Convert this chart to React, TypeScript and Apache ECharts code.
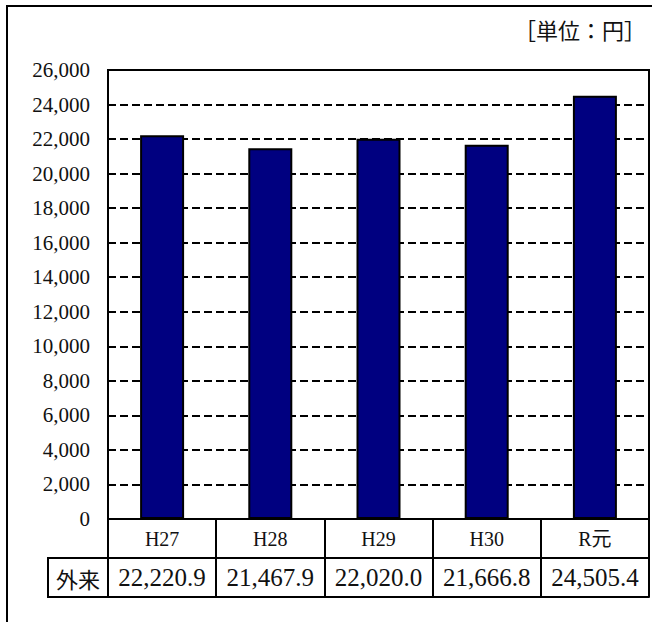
import React, { useEffect, useRef } from "react";
import * as echarts from "echarts";

const categories = ["H27", "H28", "H29", "H30", "R元"];
const outpatient = [22220.9, 21467.9, 22020.0, 21666.8, 24505.4];
const rowLabel = "外来";
const unitLabel = "［単位：円］";
const yMin = 0;
const yMax = 26000;
const yStep = 2000;

const fmtInt = (v: number) => v.toLocaleString("en-US");
const fmtVal = (v: number) =>
  v.toLocaleString("en-US", { minimumFractionDigits: 1, maximumFractionDigits: 1 });

const SERIF = "Liberation Serif, Noto Sans CJK JP, serif";
const CJK = "Noto Sans CJK JP, sans-serif";

export default function App() {
  const ref = useRef<HTMLDivElement>(null);
  useEffect(() => {
    if (!ref.current) return;
    const chart = echarts.init(ref.current, undefined, { renderer: "svg" });
    const rowH = 39;
    const gridLeft = 108;
    const gridTop = 70;
    const gridBottomY = 519;
    chart.setOption({
      animation: false,
      backgroundColor: "#fff",
      textStyle: { fontFamily: SERIF },
      grid: {
        left: gridLeft,
        right: 3,
        top: gridTop,
        bottom: 622 - gridBottomY,
        show: true,
        borderColor: "#000",
        borderWidth: 2,
        backgroundColor: "transparent",
      },
      yAxis: {
        type: "value",
        min: yMin,
        max: yMax,
        interval: yStep,
        axisLine: { show: true, lineStyle: { color: "#000", width: 2 } },
        axisTick: { show: false },
        axisLabel: {
          formatter: (v: number) => fmtInt(v),
          fontFamily: SERIF,
          fontSize: 21,
          color: "#111",
          margin: 18,
        },
        splitLine: {
          show: true,
          lineStyle: { color: "#000", width: 2, type: [8, 4] },
        },
      },
      xAxis: [
        {
          type: "category",
          data: categories,
          position: "bottom",
          offset: 0,
          axisLine: { show: true, lineStyle: { color: "#000", width: 2 } },
          axisTick: {
            show: true,
            interval: 0,
            length: rowH,
            alignWithLabel: false,
            lineStyle: { color: "#000", width: 2 },
          },
          axisLabel: {
            interval: 0,
            fontFamily: SERIF,
            fontSize: 20,
            color: "#111",
            margin: 10,
          },
        },
        {
          type: "category",
          data: categories,
          position: "bottom",
          offset: rowH,
          axisLine: { show: true, lineStyle: { color: "#000", width: 2 } },
          axisTick: {
            show: true,
            interval: 0,
            length: rowH,
            alignWithLabel: false,
            lineStyle: { color: "#000", width: 2 },
          },
          axisLabel: {
            interval: 0,
            fontFamily: SERIF,
            fontSize: 25,
            color: "#111",
            margin: 7,
            formatter: (_v: string, i: number) => fmtVal(outpatient[i]),
          },
        },
        {
          type: "category",
          data: categories,
          position: "bottom",
          offset: rowH * 2,
          axisLine: { show: true, lineStyle: { color: "#000", width: 2 } },
          axisTick: { show: false },
          axisLabel: { show: false },
        },
      ],
      series: [
        {
          type: "bar",
          xAxisIndex: 0,
          data: outpatient,
          barWidth: 44,
          itemStyle: { color: "#000080", borderColor: "#000", borderWidth: 2 },
          z: 3,
        },
      ],
      graphic: [
        {
          type: "rect",
          shape: { x: 7, y: 6, width: 800, height: 800 },
          style: { fill: "none", stroke: "#000", lineWidth: 2 },
          silent: true,
        },
        {
          type: "rect",
          shape: { x: 48, y: gridBottomY + rowH, width: gridLeft - 48, height: rowH },
          style: { fill: "none", stroke: "#000", lineWidth: 2 },
          silent: true,
        },
        {
          type: "text",
          x: 78,
          y: gridBottomY + rowH * 1.5,
          style: {
            text: rowLabel,
            fontFamily: CJK,
            fontSize: 22,
            fill: "#111",
            align: "center",
            verticalAlign: "middle",
          },
        },
        {
          type: "text",
          x: 646,
          y: 29,
          style: {
            text: unitLabel,
            fontFamily: CJK,
            fontSize: 22,
            fill: "#111",
            align: "right",
            verticalAlign: "middle",
          },
        },
      ],
    });
    return () => chart.dispose();
  }, []);
  return (
    <div
      ref={ref}
      style={{ position: "fixed", left: 0, top: 0, width: 652, height: 622 }}
    />
  );
}
